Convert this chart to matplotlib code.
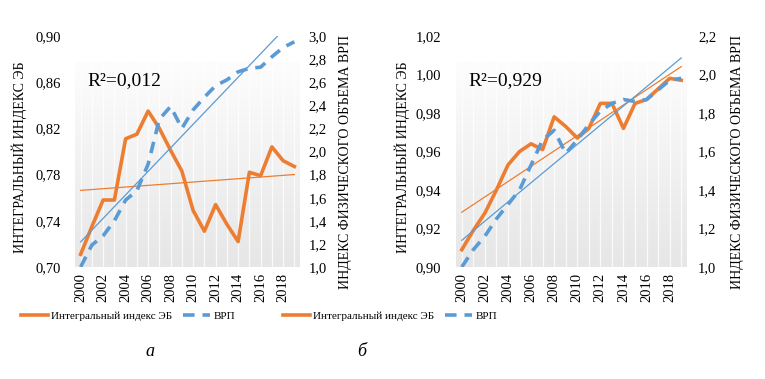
import matplotlib.pyplot as plt
import numpy as np
from matplotlib.lines import Line2D
from matplotlib.colors import LinearSegmentedColormap

plt.rcParams['font.family'] = ['Liberation Serif', 'DejaVu Serif']

years = np.arange(2000, 2020)
xtick_years = np.arange(2000, 2020, 2)

# panel a
index_a = [0.711, 0.735, 0.758, 0.758, 0.811, 0.815, 0.835, 0.820, 0.801, 0.783,
           0.749, 0.731, 0.754, 0.737, 0.722, 0.782, 0.779, 0.804, 0.792, 0.787]
vrp_a = [1.00, 1.19, 1.27, 1.40, 1.58, 1.66, 1.89, 2.28, 2.39, 2.20,
         2.36, 2.47, 2.57, 2.62, 2.69, 2.72, 2.73, 2.82, 2.90, 2.95]
r2_a = 'R²=0,012'
left_ticks_a = [0.70, 0.74, 0.78, 0.82, 0.86, 0.90]
right_ticks_a = [1.0, 1.2, 1.4, 1.6, 1.8, 2.0, 2.2, 2.4, 2.6, 2.8, 3.0]

# panel b
index_b = [0.909, 0.919, 0.928, 0.940, 0.953, 0.960, 0.964, 0.961, 0.978, 0.973,
           0.967, 0.972, 0.985, 0.985, 0.972, 0.985, 0.987, 0.9925, 0.998, 0.997]
vrp_b = [1.00, 1.09, 1.16, 1.25, 1.325, 1.40, 1.53, 1.66, 1.71, 1.59,
         1.66, 1.74, 1.81, 1.85, 1.87, 1.86, 1.87, 1.92, 1.97, 1.98]
r2_b = 'R²=0,929'
left_ticks_b = [0.90, 0.92, 0.94, 0.96, 0.98, 1.00, 1.02]
right_ticks_b = [1.0, 1.2, 1.4, 1.6, 1.8, 2.0, 2.2]

ORANGE = '#ED7D31'
BLUE = '#5B9BD5'
DASH = (3.2, 2.2)


def comma(v, nd):
    return f'{v:.{nd}f}'.replace('.', ',')


def panel(fig, rect, idx, vrp, r2, lticks, rticks, lpad, rpad):
    ax = fig.add_axes(rect)
    ax2 = ax.twinx()

    # gradient background with light year lines
    grad = np.linspace(0, 1, 256).reshape(-1, 1)
    cmap = LinearSegmentedColormap.from_list('g', ['#fdfdfd', '#e6e6e6'])
    ax.imshow(grad, cmap=cmap, extent=[0, 1, 0, 0.887], transform=ax.transAxes,
              aspect='auto', zorder=0)
    for y in years:
        ax.plot([y, y], [0, 0.887], transform=ax.get_xaxis_transform(),
                color='white', lw=0.9, alpha=0.8, zorder=0.5)

    ax.set_xlim(1999.5, 2019.5)
    ax.set_ylim(lticks[0], lticks[-1])
    ax2.set_ylim(rticks[0], rticks[-1])

    ax2.plot(years, vrp, color=BLUE, lw=2.6, dashes=DASH, zorder=3)
    ax.plot(years, idx, color=ORANGE, lw=2.6, zorder=4)

    # linear trends
    p1 = np.polyfit(years, idx, 1)
    p2 = np.polyfit(years, vrp, 1)
    ax.plot(years, np.polyval(p1, years), color=ORANGE, lw=0.9, zorder=5)
    ax2.plot(years, np.polyval(p2, years), color=BLUE, lw=0.9, zorder=5)

    ax.set_yticks(lticks)
    ax.set_yticklabels([comma(v, 2) for v in lticks])
    ax2.set_yticks(rticks)
    ax2.set_yticklabels([comma(v, 1) for v in rticks])
    ax.set_xticks(xtick_years)
    ax.set_xticklabels([str(y) for y in xtick_years], rotation=90)

    for a in (ax, ax2):
        for s in a.spines.values():
            s.set_visible(False)
        a.tick_params(length=0, labelsize=10.5)
    ax.tick_params(axis='y', pad=lpad)
    ax2.tick_params(axis='y', pad=rpad)
    ax.tick_params(axis='x', pad=4)
    ax2.patch.set_visible(False)

    ax.text(0.055, 0.805, r2, transform=ax.transAxes, fontsize=14,
            va='center', ha='left', zorder=6)
    return ax, ax2


fig = plt.figure(figsize=(7.65, 3.79), dpi=100)

bottom = 1 - 267 / 379
height = (267 - 36) / 379
panel(fig, [75 / 765, bottom, 225 / 765, height], index_a, vrp_a, r2_a,
      left_ticks_a, right_ticks_a, 10, 6)
panel(fig, [456 / 765, bottom, 231 / 765, height], index_b, vrp_b, r2_b,
      left_ticks_b, right_ticks_b, 11, 8)

lab_kw = dict(rotation=90, ha='center', va='center', fontsize=10)
fig.text(19 / 765, 1 - 157 / 379, 'ИНТЕГРАЛЬНЫЙ ИНДЕКС ЭБ', **lab_kw)
fig.text(345 / 765, 1 - 162 / 379, 'ИНДЕКС ФИЗИЧЕСКОГО ОБЪЕМА ВРП', **lab_kw)
fig.text(402 / 765, 1 - 157 / 379, 'ИНТЕГРАЛЬНЫЙ ИНДЕКС ЭБ', **lab_kw)
fig.text(738 / 765, 1 - 162 / 379, 'ИНДЕКС ФИЗИЧЕСКОГО ОБЪЕМА ВРП', **lab_kw)

handles = [Line2D([], [], color=ORANGE, lw=2.6),
           Line2D([], [], color=BLUE, lw=2.6, dashes=DASH)]
names = ['Интегральный индекс ЭБ', 'ВРП']
for cx in (128, 390):
    fig.legend(handles, names, loc='center', bbox_to_anchor=(cx / 765, 1 - 316 / 379),
               ncol=2, frameon=False, fontsize=8, handlelength=2.4,
               handletextpad=0.3, columnspacing=1.0)

fig.text(150 / 765, 1 - 352 / 379, 'а', style='italic', fontsize=13, ha='center', va='center')
fig.text(362 / 765, 1 - 352 / 379, 'б', style='italic', fontsize=13, ha='center', va='center')

fig.savefig('out.png', dpi=100)
